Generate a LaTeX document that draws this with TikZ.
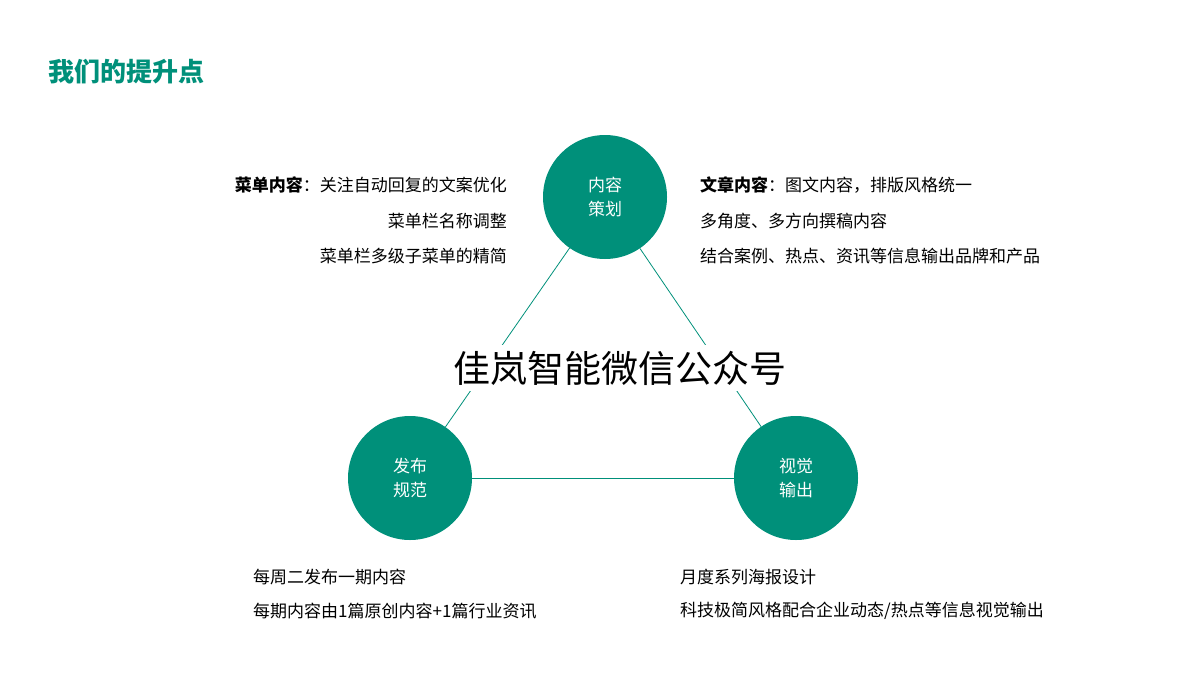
\documentclass[tikz,border=0pt]{standalone}
\usepackage{fontspec}
\setmainfont{Noto Sans CJK SC}
\newfontfamily\cjkb{Noto Sans CJK SC Bold}
\definecolor{teal1}{HTML}{00907A}
\begin{document}
\begin{tikzpicture}[x=1pt,y=-1pt,
  circ/.style={circle,fill=teal1,minimum size=124pt,inner sep=0pt,text=white,font=\fontsize{17}{24}\selectfont,align=center},
  txt/.style={inner sep=0pt,font=\fontsize{17}{20}\selectfont},
  link/.style={teal1,line width=0.8pt}]
\useasboundingbox (0,0) rectangle (1200,675);
\node[circ] (top) at (605,197) {内容\\策划};
\node[circ] (lft) at (410,478) {发布\\规范};
\node[circ] (rgt) at (796,478) {视觉\\输出};
\draw[link] (top) -- (lft);
\draw[link] (top) -- (rgt);
\draw[link] (lft) -- (rgt);
\node[fill=white,inner xsep=4pt,inner ysep=6pt,font=\fontsize{37}{40}\selectfont] (ctr) at (620,368) {佳岚智能微信公众号};
\node[anchor=west,inner sep=0pt,text=teal1,font=\fontsize{26}{30}\selectfont\bfseries] (title) at (48,72) {我们的提升点};
\node[txt,anchor=east] (l1) at (507,185) {\textbf{菜单内容}：关注自动回复的文案优化};
\node[txt,anchor=east] (l2) at (507,221) {菜单栏名称调整};
\node[txt,anchor=east] (l3) at (507,256) {菜单栏多级子菜单的精简};
\node[txt,anchor=west] (r1) at (700,185) {\textbf{文章内容}：图文内容，排版风格统一};
\node[txt,anchor=west] (r2) at (700,221) {多角度、多方向撰稿内容};
\node[txt,anchor=west] (r3) at (700,256) {结合案例、热点、资讯等信息输出品牌和产品};
\node[txt,anchor=west] (b1) at (253,577) {每周二发布一期内容};
\node[txt,anchor=west] (b2) at (253,611) {每期内容由1篇原创内容+1篇行业资讯};
\node[txt,anchor=west] (c1) at (680,577) {月度系列海报设计};
\node[txt,anchor=west] (c2) at (680,611) {科技极简风格配合企业动态/热点等信息视觉输出};
\end{tikzpicture}
\end{document}
